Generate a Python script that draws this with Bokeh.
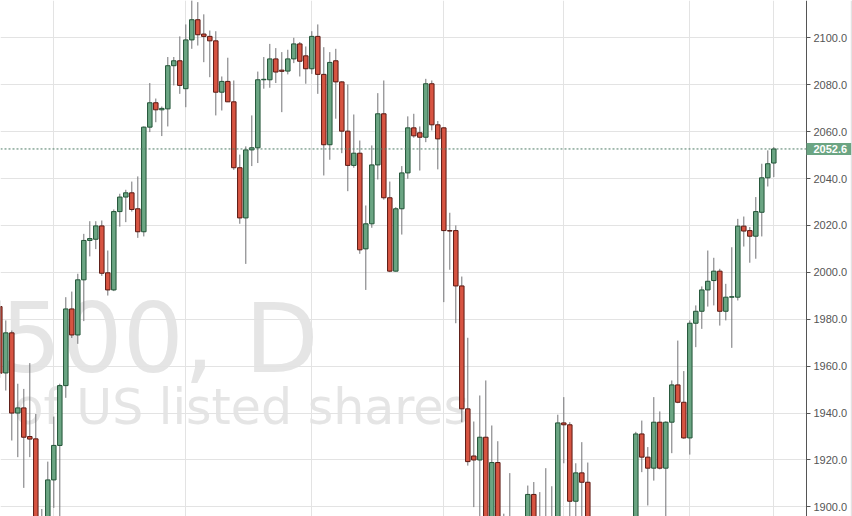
from bokeh.plotting import figure
from bokeh.models import (ColumnDataSource, Range1d, FixedTicker, PrintfTickFormatter,
                          Span, Label, BoxAnnotation)
from bokeh.embed import file_html
from bokeh.resources import INLINE

# Daily OHLC candles (index 0 = leftmost, partially cut at the chart edge)
opens = [1985.4, 1957.1, 1974.2, 1940.0, 1942.2, 1930.0, 1929.0, 1885.0, 1890.0, 1911.5,
         1926.2, 1951.7, 1984.4, 1973.3, 1996.8, 2013.6, 2014.1, 2019.8, 1999.8, 1992.5,
         2025.9, 2032.1, 2033.9, 2027.1, 2017.3, 2061.9, 2072.3, 2069.3, 2069.7, 2088.1,
         2090.2, 2078.3, 2099.1, 2107.7, 2101.6, 2100.6, 2098.7, 2076.8, 2081.4, 2072.7,
         2044.6, 2023.2, 2052.2, 2053.1, 2082.1, 2082.1, 2091.0, 2086.2, 2085.8, 2091.0,
         2097.4, 2092.3, 2086.8, 2100.6, 2084.4, 2054.4, 2090.2, 2081.2, 2060.2, 2045.6,
         2050.8, 2010.0, 2020.7, 2045.8, 2067.6, 2031.8, 2000.5, 2027.1, 2042.4, 2061.6,
         2059.5, 2057.6, 2080.4, 2062.9, 2061.6, 2017.8, 2017.8, 1994.2, 1941.8, 1921.7,
         1920.0, 1929.7, 1890.0, 1918.9, 1880.0, 1890.0, 1885.0, 1878.0, 1885.0, 1905.3,
         1890.0, 1893.0, 1885.0, 1893.0, 1935.8, 1935.0, 1902.4, 1914.5, 1910.5, 1888.0,
         1880.0, 1875.0, 1882.0, 1878.0, 1884.0, 1880.0, 1888.0, 1931.1, 1921.2, 1916.5,
         1936.1, 1916.5, 1936.1, 1952.0, 1944.6, 1929.4, 1978.3, 1983.4, 1992.5, 1996.5,
         2000.5, 1983.4, 1989.4, 1989.4, 2019.7, 2017.8, 2015.4, 2025.6, 2040.3, 2046.6]
highs = [1988.0, 1979.5, 1975.2, 1952.5, 1950.3, 1961.3, 1939.6, 1899.1, 1919.3, 1938.5,
         1952.5, 1989.4, 1991.8, 1999.4, 2016.4, 2021.8, 2021.8, 2022.1, 2009.3, 2026.8,
         2033.5, 2035.2, 2038.7, 2040.9, 2062.2, 2080.7, 2074.1, 2070.7, 2091.8, 2091.8,
         2100.6, 2105.7, 2116.0, 2115.2, 2110.0, 2103.1, 2102.8, 2083.5, 2091.5, 2081.8,
         2050.2, 2053.7, 2066.9, 2085.6, 2091.8, 2097.4, 2095.6, 2093.9, 2094.9, 2100.0,
         2098.2, 2096.3, 2102.8, 2105.7, 2096.0, 2093.9, 2095.3, 2081.5, 2080.1, 2067.3,
         2056.2, 2028.5, 2054.1, 2076.4, 2081.8, 2038.7, 2027.8, 2045.3, 2066.5, 2067.6,
         2062.2, 2082.5, 2081.8, 2064.5, 2061.9, 2025.4, 2020.0, 1998.2, 1972.1, 1936.4,
         1947.5, 1953.9, 1934.7, 1928.0, 1897.1, 1914.4, 1893.0, 1890.0, 1909.1, 1910.6,
         1906.3, 1916.5, 1908.8, 1939.3, 1946.8, 1936.1, 1918.6, 1927.6, 1918.9, 1894.0,
         1890.0, 1888.0, 1889.0, 1890.0, 1892.0, 1893.0, 1932.0, 1936.8, 1925.5, 1946.8,
         1940.7, 1936.5, 1953.9, 1970.9, 1957.9, 1979.5, 1985.9, 1994.0, 2009.3, 2006.2,
         2001.5, 1995.1, 2010.7, 2022.8, 2023.8, 2019.3, 2032.1, 2046.3, 2052.0, 2053.4]
lows = [1955.0, 1949.6, 1928.3, 1921.2, 1908.1, 1921.2, 1885.0, 1880.0, 1887.0, 1899.6,
        1893.0, 1946.5, 1972.0, 1969.5, 1979.2, 2006.8, 2009.9, 1998.5, 1990.1, 1992.0,
        2019.5, 2021.4, 2025.9, 2014.7, 2015.3, 2059.8, 2064.0, 2058.1, 2062.2, 2079.7,
        2076.1, 2070.4, 2095.3, 2096.7, 2089.6, 2083.2, 2066.9, 2069.0, 2072.6, 2043.7,
        2020.7, 2003.6, 2045.3, 2046.6, 2078.3, 2078.7, 2080.7, 2068.3, 2084.4, 2089.2,
        2083.5, 2080.4, 2084.6, 2076.1, 2041.3, 2048.0, 2065.5, 2050.8, 2034.6, 2044.6,
        2007.9, 1992.5, 2019.0, 2039.6, 2031.0, 2000.1, 2000.3, 2016.1, 2039.9, 2057.4,
        2043.4, 2055.5, 2060.5, 2043.9, 1987.3, 2001.1, 1978.3, 1936.1, 1917.6, 1899.9,
        1893.0, 1885.0, 1886.0, 1885.0, 1875.0, 1872.0, 1870.0, 1868.0, 1880.0, 1885.0,
        1880.0, 1880.0, 1878.0, 1890.0, 1918.6, 1890.0, 1893.0, 1893.0, 1880.0, 1875.0,
        1868.0, 1865.0, 1870.0, 1872.0, 1874.0, 1876.0, 1885.0, 1914.8, 1900.6, 1911.2,
        1916.0, 1893.0, 1922.9, 1944.2, 1929.0, 1922.3, 1968.1, 1975.9, 1985.4, 1985.9,
        1977.3, 1979.5, 1967.8, 1988.0, 2011.0, 2004.1, 2005.8, 2015.3, 2036.6, 2040.6]
closes = [1957.0, 1974.2, 1940.0, 1942.2, 1929.7, 1928.9, 1890.0, 1890.0, 1911.5, 1926.2,
          1951.7, 1984.4, 1973.3, 1996.8, 2013.6, 2014.4, 2019.8, 1999.6, 1992.5, 2025.9,
          2032.1, 2033.9, 2026.8, 2017.3, 2061.9, 2072.3, 2069.3, 2069.9, 2088.1, 2090.2,
          2079.7, 2099.1, 2107.7, 2101.3, 2100.6, 2098.7, 2076.8, 2081.4, 2072.7, 2044.6,
          2023.2, 2052.2, 2053.1, 2082.1, 2082.3, 2091.0, 2085.4, 2085.7, 2091.0, 2097.4,
          2090.0, 2086.8, 2100.6, 2084.4, 2054.4, 2089.5, 2081.2, 2060.2, 2045.6, 2050.8,
          2009.6, 2020.7, 2045.8, 2067.6, 2031.8, 2000.5, 2027.1, 2042.4, 2061.6, 2058.2,
          2057.6, 2080.4, 2062.9, 2056.9, 2017.8, 2017.6, 1994.2, 1941.8, 1919.3, 1920.0,
          1929.7, 1890.0, 1918.9, 1890.0, 1890.0, 1880.0, 1875.0, 1885.0, 1905.3, 1890.0,
          1895.0, 1885.0, 1893.0, 1935.8, 1935.0, 1902.4, 1914.5, 1910.5, 1888.0, 1880.0,
          1875.0, 1882.0, 1878.0, 1884.0, 1880.0, 1888.0, 1931.1, 1921.2, 1916.5, 1936.1,
          1916.5, 1936.1, 1952.0, 1944.6, 1929.4, 1978.3, 1983.4, 1992.5, 1996.2, 2000.5,
          1983.4, 1989.4, 1989.6, 2019.7, 2017.6, 2015.4, 2025.9, 2040.3, 2046.3, 2052.6]

price_ticks = [1900, 1920, 1940, 1960, 1980, 2000, 2020, 2040, 2060, 2080, 2100]
period_starts = [9, 31, 52, 74, 94, 115, 129]   # candle indices of vertical grid lines
last_price = 2052.6
watermark_main = "500, D"
watermark_sub = "of US listed shares"

UP_FILL, UP_LINE = "#6ba583", "#225437"
DN_FILL, DN_LINE = "#d75442", "#5b1a13"
WICK = "#737375"

idx = list(range(len(opens)))
is_up = [c >= o for o, c in zip(opens, closes)]
src = ColumnDataSource(dict(
    x=idx, h=highs, l=lows,
    top=[max(o, c) for o, c in zip(opens, closes)],
    bottom=[min(o, c) for o, c in zip(opens, closes)],
    fill=[UP_FILL if u else DN_FILL for u in is_up],
    line=[UP_LINE if u else DN_LINE for u in is_up],
))

X0, SCALE_EDGE, X1 = 0.117, 134.45, 142.117   # left edge, price-scale line, right edge
p = figure(frame_width=852, frame_height=516,
           x_range=Range1d(X0, X1), y_range=Range1d(1895.9, 2115.9),
           output_backend="svg", toolbar_location=None,
           x_axis_location=None, y_axis_location="right", min_border=0)
p.outline_line_color = None
p.background_fill_color = "white"
p.border_fill_color = "white"

p.xgrid.ticker = FixedTicker(ticks=period_starts)
p.xgrid.grid_line_color = "#e3e3e3"
p.ygrid.grid_line_color = "#e3e3e3"

# price-scale column: white strip hiding the grid to the right of the scale line
p.add_layout(BoxAnnotation(left=SCALE_EDGE, right=X1, fill_color="white", fill_alpha=1,
                           line_color=None, level="underlay"))
p.add_layout(Span(location=X1 - 0.2, dimension="height", line_color="#dcdcdc",
                  line_width=1, level="underlay"))

ax = p.yaxis[0]
ax.fixed_location = SCALE_EDGE
ax.ticker = FixedTicker(ticks=price_ticks)
ax.formatter = PrintfTickFormatter(format="%.1f")
ax.axis_line_color = "#555555"
ax.major_tick_line_color = "#555555"
ax.major_tick_in = 0
ax.major_tick_out = 4
ax.minor_tick_line_color = None
ax.major_label_standoff = 3
ax.major_label_text_font = "Liberation Sans"
ax.major_label_text_font_size = "11px"
ax.major_label_text_color = "#555555"

# watermark
p.add_layout(Label(x=0, y=178, x_units="screen", y_units="screen", text=watermark_main,
                   text_font="DejaVu Sans", text_font_size="96px", text_color="#e5e5e5",
                   text_baseline="alphabetic", level="image"))
p.add_layout(Label(x=13, y=109, x_units="screen", y_units="screen", text=watermark_sub,
                   text_font="DejaVu Sans", text_font_size="49px", text_color="#e5e5e5",
                   text_baseline="alphabetic", level="image"))

p.segment(x0="x", y0="h", x1="x", y1="l", source=src, line_color=WICK, line_width=1)
p.vbar(x="x", width=0.75, top="top", bottom="bottom", source=src,
       fill_color="fill", line_color="line", line_width=1)

p.add_layout(Span(location=last_price, dimension="width", line_color="#4d7c66",
                  line_dash="2 2", line_width=1))
p.add_layout(Label(x=SCALE_EDGE, y=last_price, x_units="data", y_units="data",
                   text=f"{last_price:.1f}", text_align="left", text_baseline="middle",
                   text_font="Liberation Sans", text_font_size="11px", text_font_style="bold",
                   text_color="white", background_fill_color=UP_FILL,
                   padding=dict(left=7, right=4, top=2, bottom=2), level="overlay"))

open("out.html", "w").write(file_html(p, INLINE))
